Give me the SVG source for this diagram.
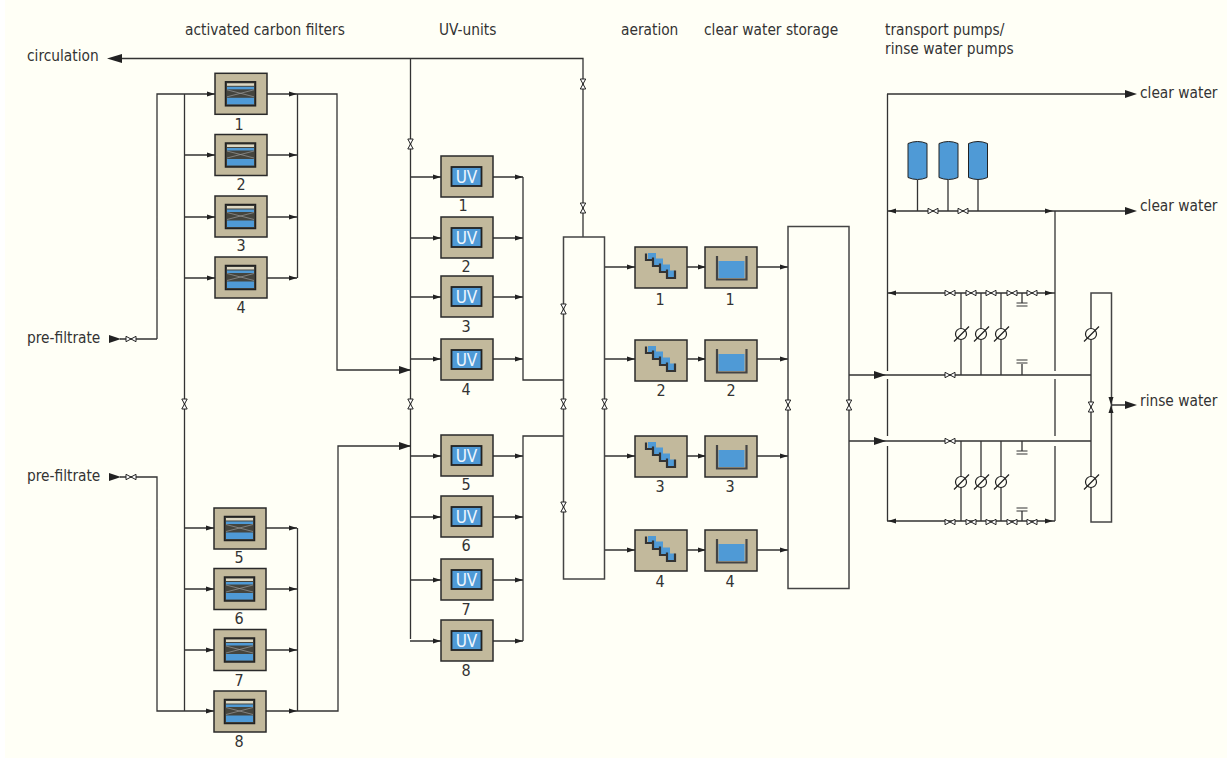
<svg xmlns="http://www.w3.org/2000/svg" width="1227" height="758" viewBox="0 0 1227 758">
<style>
text{font-family:"DejaVu Sans Condensed","DejaVu Sans","Liberation Sans",sans-serif;font-size:15.300px;fill:#333}
.n{text-anchor:middle;font-size:16px}
.l{fill:none;stroke:#333;stroke-width:1.300}
.box{fill:#c2b99c;stroke:#2a2a2a;stroke-width:1.500}
.bl{fill:#4f9ad6}
.d{fill:#45453e}
.v{fill:#fff;stroke:#222;stroke-width:1}
.a{fill:#222}
.w{fill:none;stroke:#444;stroke-width:1.500}
</style>
<defs>
<g id="fi"><rect class="box" x="-26" y="-20.500" width="52" height="41"/><rect class="d" x="-15.500" y="-12" width="30" height="24" stroke="#222" stroke-width="1.500"/><rect x="-14" y="-10.500" width="27" height="2.500" fill="#ddd8c4"/><rect class="bl" x="-14" y="-7" width="27" height="2.500"/><path d="M-14-4L13 3M-14 3L13-4" stroke="#999" stroke-width=".7"/><rect class="bl" x="-14" y="4" width="27" height="6.500"/></g>
<g id="uv"><rect class="box" x="-26" y="-20.500" width="52" height="41"/><rect class="bl" x="-15.500" y="-9.500" width="30" height="19" stroke="#222" stroke-width="1.800"/><text x="-.5" y="6" text-anchor="middle" style="fill:#eef6ff;font-size:17px">UV</text></g>
<g id="st"><rect class="box" x="-26" y="-20.500" width="52" height="41"/><path class="bl" d="M-13-14.500H-5V-9H2V-3H9V3H13.500V10H7V3.500H0V-2.500H-7V-8.500H-13z"/><path fill="none" stroke="#333" stroke-width="2.200" d="M-15-14V-7.500H-8V-1.500H-1V4.500H6V10.500H14V3M-8-10V-7.500M-1-4V-1.500M6 2V4.500"/></g>
<g id="ta"><rect class="box" x="-26" y="-20.500" width="52" height="41"/><rect class="bl" x="-12.500" y="-6.500" width="26" height="17"/><path fill="none" stroke="#444" stroke-width="2.200" d="M-14-11.500V12H15.500V-11.500"/></g>
<path id="V" class="v" d="M-5-2.700L5 2.700V-2.700L-5 2.700z"/>
<path id="U" class="v" d="M-2.700-5L2.700 5H-2.700L2.700-5z"/>
<path id="A" class="a" d="M-8-2.500L0 0L-8 2.500z"/>
<path id="B" class="a" d="M-12-4L0 0L-12 4z"/>
<g id="M"><circle r="5.500" fill="#fffff6" stroke="#222" stroke-width="1.200"/><path d="M-7 7.500L8-7.500" stroke="#222" stroke-width="1.200"/></g>
<g id="C"><path d="M-5.500 0H5.500M-5.500 3H5.500" stroke="#333" stroke-width="1.200"/></g>
<path id="T" class="bl" stroke="#222" d="M-9.500-17Q0-21 9.500-17V17Q0 21-9.500 17z"/>
</defs>
<rect width="1227" height="758" fill="#fff"/>
<rect x="5" y="0" width="1222" height="758" fill="#fffff6"/>

<g id="connectors">
<path class="l" d="M120 58.500H583V237M410.500 58.500V639M157 339H120M157 339V94H215M184.500 94V711M184.500 155H215M184.500 217H215M184.500 278H215M184.500 528H214M184.500 589H214M184.500 650H214M120 477H157V711H214"/>
<path class="l" d="M267 94H337V370H411M267 155H297M267 217H297M267 278H297M297.500 94V278M266 528H297M266 589H297M266 650H297M266 711H338V446H411M297.500 528V711"/>
<path class="l" d="M410 177H441M410 238H441M410 297H441M410 359H441M410 456H441M410 517H441M410 580H441M410 641H441"/>
<path class="l" d="M493 177H523M493 238H523M493 297H523M493 359H523M493 456H523M493 517H523M493 580H523M493 641H523M523 177V380H563M523 456V641M523 641V436H563"/>
<path class="l" d="M604 267H635M604 359H635M604 456H635M604 550H635M687 267H705M687 359H705M687 456H705M687 550H705M757 267H788M757 359H788M757 456H788M757 550H788"/>
<rect class="w" x="563.500" y="237" width="41" height="342"/>
<rect class="w" x="788" y="226.500" width="61" height="362"/>
<rect class="w" x="1091" y="293" width="20.500" height="229"/>
<path class="l" d="M849 375H1091M849 441H1091M887 94H1130M887 211H1130M887.500 94V371M887.500 379V436M887.500 446V521M1055 211V371M1055 379V436M1055 446V521"/>
<path class="l" d="M887 293H1055M887 521H1055M961 293V375M981 293V375M1001 293V375M961 441V521M981 441V521M1001 441V521M1022 293V303M1022 375V364M1022 441V451M1022 521V511M1111 405H1130M917.500 180V211M948 180V211M978 180V211"/>
</g>
<g id="valves">
<use href="#V" x="131" y="339"/><use href="#V" x="131" y="477"/>
<use href="#U" x="184.500" y="404"/><use href="#U" x="410.500" y="144"/><use href="#U" x="410.500" y="404"/>
<use href="#U" x="583" y="84"/><use href="#U" x="583" y="208"/>
<use href="#U" x="563.500" y="309"/><use href="#U" x="563.500" y="404"/><use href="#U" x="563.500" y="507"/><use href="#U" x="604.500" y="404"/>
<use href="#U" x="788" y="405"/><use href="#U" x="849" y="405"/><use href="#U" x="1091" y="407"/>
<use href="#V" x="933" y="211"/><use href="#V" x="963" y="211"/>
<use href="#V" x="950" y="293"/><use href="#V" x="971" y="293"/><use href="#V" x="991" y="293"/><use href="#V" x="1012" y="293"/><use href="#V" x="1032" y="293"/>
<use href="#V" x="950" y="375"/><use href="#V" x="950" y="441"/>
<use href="#V" x="950" y="522"/><use href="#V" x="971" y="522"/><use href="#V" x="991" y="522"/><use href="#V" x="1012" y="522"/><use href="#V" x="1032" y="522"/>
</g>
<g id="arrows">
<path class="a" d="M107 58.500L122 54V63z"/>
<use href="#B" x="121" y="339"/><use href="#B" x="121" y="477"/>
<use href="#A" x="215" y="94"/><use href="#A" x="215" y="155"/><use href="#A" x="215" y="217"/><use href="#A" x="215" y="278"/>
<use href="#A" x="214" y="528"/><use href="#A" x="214" y="589"/><use href="#A" x="214" y="650"/><use href="#A" x="214" y="711"/>
<use href="#A" x="297" y="94"/><use href="#A" x="297" y="155"/><use href="#A" x="297" y="217"/><use href="#A" x="297" y="278"/>
<use href="#A" x="297" y="528"/><use href="#A" x="297" y="589"/><use href="#A" x="297" y="650"/><use href="#A" x="297" y="711"/>
<use href="#B" x="411" y="370"/><use href="#B" x="411" y="446"/>
<use href="#A" x="441" y="177"/><use href="#A" x="441" y="238"/><use href="#A" x="441" y="297"/><use href="#A" x="441" y="359"/><use href="#A" x="441" y="456"/><use href="#A" x="441" y="517"/><use href="#A" x="441" y="580"/><use href="#A" x="441" y="641"/>
<use href="#A" x="523" y="177"/><use href="#A" x="523" y="238"/><use href="#A" x="523" y="297"/><use href="#A" x="523" y="359"/><use href="#A" x="523" y="456"/><use href="#A" x="523" y="517"/><use href="#A" x="523" y="580"/><use href="#A" x="523" y="641"/>
<use href="#A" x="635" y="267"/><use href="#A" x="635" y="359"/><use href="#A" x="635" y="456"/><use href="#A" x="635" y="550"/>
<use href="#A" x="706" y="267"/><use href="#A" x="706" y="359"/><use href="#A" x="706" y="456"/><use href="#A" x="706" y="550"/>
<use href="#A" x="788" y="267"/><use href="#A" x="788" y="359"/><use href="#A" x="788" y="456"/><use href="#A" x="788" y="550"/>
<use href="#B" x="886" y="375"/><use href="#B" x="886" y="441"/>
<use href="#B" x="1137" y="94"/><use href="#B" x="1137" y="211"/><use href="#B" x="1137" y="405"/>
<path class="a" d="M888 211L896 208.500V213.500zM1053 211L1045 208.500V213.500zM888 293L896 290.500V295.500zM1053 293L1045 290.500V295.500zM888 521L896 518.500V523.500zM1053 521L1045 518.500V523.500zM1111 405L1108.500 397H1113.500zM1111 405L1108.500 413H1113.500z"/>
</g>
<g id="meters">
<use href="#M" x="961" y="334"/><use href="#M" x="981" y="334"/><use href="#M" x="1001" y="334"/><use href="#M" x="1091" y="334"/>
<use href="#M" x="961" y="482"/><use href="#M" x="981" y="482"/><use href="#M" x="1001" y="482"/><use href="#M" x="1091" y="482"/>
<use href="#C" x="1022" y="303"/><use href="#C" x="1022" y="360"/><use href="#C" x="1022" y="451"/><use href="#C" x="1022" y="508"/>
</g>
<g id="tanks"><use href="#T" x="917.500" y="160.500"/><use href="#T" x="948.500" y="160.500"/><use href="#T" x="978" y="160.500"/></g>

<g id="f1"><use href="#fi" x="241" y="93.800"/><text class="n" x="239" y="130">1</text></g>
<g id="f2"><use href="#fi" x="241" y="155"/><text class="n" x="241" y="190">2</text></g>
<g id="f3"><use href="#fi" x="241" y="216.500"/><text class="n" x="241" y="251">3</text></g>
<g id="f4"><use href="#fi" x="241" y="277.500"/><text class="n" x="241" y="313">4</text></g>
<g id="f5"><use href="#fi" x="240" y="528.500"/><text class="n" x="239" y="563">5</text></g>
<g id="f6"><use href="#fi" x="240" y="589"/><text class="n" x="239" y="624">6</text></g>
<g id="f7"><use href="#fi" x="240" y="650"/><text class="n" x="239" y="686">7</text></g>
<g id="f8"><use href="#fi" x="240" y="711.500"/><text class="n" x="239" y="747">8</text></g>
<g id="u1"><use href="#uv" x="467" y="176.500"/><text class="n" x="463" y="211">1</text></g>
<g id="u2"><use href="#uv" x="467" y="237.500"/><text class="n" x="466" y="272">2</text></g>
<g id="u3"><use href="#uv" x="467" y="296.500"/><text class="n" x="466" y="332">3</text></g>
<g id="u4"><use href="#uv" x="467" y="359.500"/><text class="n" x="466" y="395">4</text></g>
<g id="u5"><use href="#uv" x="467" y="455.500"/><text class="n" x="466" y="490">5</text></g>
<g id="u6"><use href="#uv" x="467" y="516.500"/><text class="n" x="466" y="551">6</text></g>
<g id="u7"><use href="#uv" x="467" y="579.500"/><text class="n" x="466" y="615">7</text></g>
<g id="u8"><use href="#uv" x="467" y="640.500"/><text class="n" x="466" y="676">8</text></g>
<g id="a1"><use href="#st" x="661" y="267.500"/><text class="n" x="660" y="305">1</text></g>
<g id="a2"><use href="#st" x="661" y="360.500"/><text class="n" x="661" y="396">2</text></g>
<g id="a3"><use href="#st" x="661" y="456.500"/><text class="n" x="660" y="492">3</text></g>
<g id="a4"><use href="#st" x="661" y="550.500"/><text class="n" x="660" y="587">4</text></g>
<g id="s1"><use href="#ta" x="731" y="267.500"/><text class="n" x="730" y="305">1</text></g>
<g id="s2"><use href="#ta" x="731" y="360.500"/><text class="n" x="731" y="396">2</text></g>
<g id="s3"><use href="#ta" x="731" y="456.500"/><text class="n" x="730" y="492">3</text></g>
<g id="s4"><use href="#ta" x="731" y="550.500"/><text class="n" x="730" y="587">4</text></g>

<g id="labels">
<text x="185" y="35">activated carbon filters</text>
<text x="439" y="35">UV-units</text>
<text x="621" y="35">aeration</text>
<text x="704" y="35">clear water storage</text>
<text x="885" y="35">transport pumps/</text>
<text x="885" y="54">rinse water pumps</text>
<text x="27" y="61">circulation</text>
<text x="27" y="343">pre-filtrate</text>
<text x="27" y="481">pre-filtrate</text>
<text x="1140" y="98">clear water</text>
<text x="1140" y="211">clear water</text>
<text x="1140" y="406">rinse water</text>
</g>
</svg>
